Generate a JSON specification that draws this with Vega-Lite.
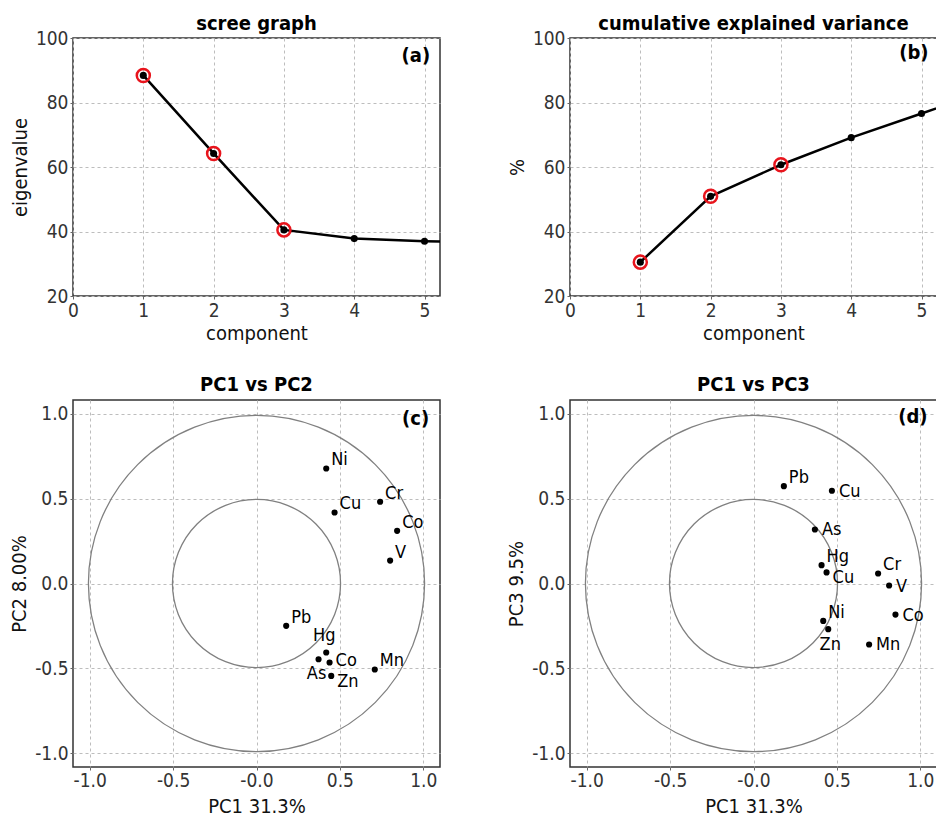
{
  "$schema": "https://vega.github.io/schema/vega-lite/v6.json",
  "padding": {"left": 8, "top": 13, "right": 0, "bottom": 0},
  "background": "white",
  "config": {
    "font": "DejaVu Sans Condensed, Roboto, sans-serif",
    "view": {"stroke": "#333333", "strokeWidth": 1.5},
    "axis": {
      "domain": false,
      "grid": true,
      "gridColor": "#bdbdbd",
      "gridDash": [3, 3],
      "gridWidth": 1,
      "tickColor": "#666666",
      "tickSize": 3,
      "labelFont": "DejaVu Sans Condensed, Roboto, sans-serif",
      "labelFontSize": 19,
      "labelColor": "#333333",
      "titleFont": "DejaVu Sans Condensed, Roboto, sans-serif",
      "titleFontSize": 20,
      "titleFontWeight": "normal",
      "titleColor": "#111111",
      "labelFlush": false,
      "labelOverlap": false,
      "labelBound": false
    },
    "axisX": {"labelPadding": 2, "titlePadding": 3},
    "axisY": {"labelPadding": 2, "titlePadding": 5},
    "title": {"fontSize": 20, "fontWeight": "bold", "baseline": "alphabetic", "frame": "group", "color": "black", "font": "DejaVu Sans Condensed, Roboto, sans-serif"}
  },
  "datasets": {
    "scree": [
      {"component": 1, "eigenvalue": 88.4, "retained": true},
      {"component": 2, "eigenvalue": 64.2, "retained": true},
      {"component": 3, "eigenvalue": 40.5, "retained": true},
      {"component": 4, "eigenvalue": 37.8, "retained": false},
      {"component": 5, "eigenvalue": 37.0, "retained": false},
      {"component": 6, "eigenvalue": 36.5, "retained": false}
    ],
    "cum": [
      {"component": 1, "percent": 30.5, "retained": true},
      {"component": 2, "percent": 50.9, "retained": true},
      {"component": 3, "percent": 60.7, "retained": true},
      {"component": 4, "percent": 69.1, "retained": false},
      {"component": 5, "percent": 76.6, "retained": false},
      {"component": 6, "percent": 84.0, "retained": false}
    ],
    "circles": [
      {"radius": 1},
      {"radius": 0.5}
    ],
    "pc12": [
      {"el": "Ni", "PC1": 0.418, "PC2": 0.677, "pos": "ur"},
      {"el": "Cu", "PC1": 0.468, "PC2": 0.418, "pos": "ur"},
      {"el": "Cr", "PC1": 0.741, "PC2": 0.481, "pos": "ur"},
      {"el": "Co", "PC1": 0.843, "PC2": 0.310, "pos": "ur"},
      {"el": "V", "PC1": 0.801, "PC2": 0.135, "pos": "ur"},
      {"el": "Pb", "PC1": 0.178, "PC2": -0.249, "pos": "ur"},
      {"el": "Hg", "PC1": 0.418, "PC2": -0.406, "pos": "above"},
      {"el": "As", "PC1": 0.372, "PC2": -0.446, "pos": "below"},
      {"el": "Co", "PC1": 0.438, "PC2": -0.465, "pos": "r"},
      {"el": "Zn", "PC1": 0.448, "PC2": -0.544, "pos": "lr"},
      {"el": "Mn", "PC1": 0.709, "PC2": -0.506, "pos": "ur"}
    ],
    "pc13": [
      {"el": "Pb", "PC1": 0.182, "PC3": 0.573, "pos": "ur"},
      {"el": "Cu", "PC1": 0.470, "PC3": 0.546, "pos": "r"},
      {"el": "As", "PC1": 0.368, "PC3": 0.318, "pos": "r"},
      {"el": "Hg", "PC1": 0.408, "PC3": 0.108, "pos": "ur"},
      {"el": "Cu", "PC1": 0.438, "PC3": 0.065, "pos": "lr"},
      {"el": "Cr", "PC1": 0.747, "PC3": 0.059, "pos": "ur"},
      {"el": "V", "PC1": 0.813, "PC3": -0.012, "pos": "r"},
      {"el": "Co", "PC1": 0.851, "PC3": -0.183, "pos": "r"},
      {"el": "Ni", "PC1": 0.418, "PC3": -0.220, "pos": "ur"},
      {"el": "Zn", "PC1": 0.448, "PC3": -0.269, "pos": "below"},
      {"el": "Mn", "PC1": 0.693, "PC3": -0.359, "pos": "r"}
    ]
  },
  "columns": 2,
  "align": "each",
  "spacing": {"column": 64, "row": 30},
  "concat": [
    {
      "title": {"text": "scree graph", "offset": -5},
      "width": 367,
      "height": 258,
      "layer": [
        {"data": {"name": "scree"}, "mark": {"type": "line", "color": "black", "strokeWidth": 2.5, "clip": true},
         "encoding": {
           "x": {"field": "component", "type": "quantitative", "scale": {"domain": [0, 5.22], "nice": false, "zero": false}, "axis": {"values": [0, 1, 2, 3, 4, 5], "format": "d"}, "title": "component"},
           "y": {"field": "eigenvalue", "type": "quantitative", "scale": {"domain": [20, 100], "nice": false, "zero": false}, "axis": {"values": [20, 40, 60, 80, 100], "format": "d"}, "title": "eigenvalue"}}},
        {"data": {"name": "scree"}, "transform": [{"filter": "datum.retained"}], "mark": {"type": "point", "filled": false, "color": "#e8141c", "strokeWidth": 2.5, "size": 170, "opacity": 1, "clip": true},
         "encoding": {"x": {"field": "component", "type": "quantitative", "title": "component"}, "y": {"field": "eigenvalue", "type": "quantitative", "title": "eigenvalue"}}},
        {"data": {"name": "scree"}, "mark": {"type": "point", "filled": true, "color": "black", "size": 50, "opacity": 1, "clip": true},
         "encoding": {"x": {"field": "component", "type": "quantitative", "title": "component"}, "y": {"field": "eigenvalue", "type": "quantitative", "title": "eigenvalue"}}},
        {"data": {"values": [{"panel": "(a)"}]}, "mark": {"type": "text", "align": "right", "baseline": "middle", "fontSize": 20, "fontWeight": "bold", "color": "black"},
         "encoding": {"x": {"datum": 5.08, "type": "quantitative"}, "y": {"datum": 94.5, "type": "quantitative"}, "text": {"field": "panel", "type": "nominal"}}}
      ]
    },
    {
      "title": {"text": "cumulative explained variance", "offset": -5},
      "width": 367,
      "height": 258,
      "layer": [
        {"data": {"name": "cum"}, "mark": {"type": "line", "color": "black", "strokeWidth": 2.5, "clip": true},
         "encoding": {
           "x": {"field": "component", "type": "quantitative", "scale": {"domain": [0, 5.22], "nice": false, "zero": false}, "axis": {"values": [0, 1, 2, 3, 4, 5], "format": "d"}, "title": "component"},
           "y": {"field": "percent", "type": "quantitative", "scale": {"domain": [20, 100], "nice": false, "zero": false}, "axis": {"values": [20, 40, 60, 80, 100], "format": "d"}, "title": "%"}}},
        {"data": {"name": "cum"}, "transform": [{"filter": "datum.retained"}], "mark": {"type": "point", "filled": false, "color": "#e8141c", "strokeWidth": 2.5, "size": 170, "opacity": 1, "clip": true},
         "encoding": {"x": {"field": "component", "type": "quantitative", "title": "component"}, "y": {"field": "percent", "type": "quantitative", "title": "%"}}},
        {"data": {"name": "cum"}, "mark": {"type": "point", "filled": true, "color": "black", "size": 50, "opacity": 1, "clip": true},
         "encoding": {"x": {"field": "component", "type": "quantitative", "title": "component"}, "y": {"field": "percent", "type": "quantitative", "title": "%"}}},
        {"data": {"values": [{"panel": "(b)"}]}, "mark": {"type": "text", "align": "right", "baseline": "middle", "fontSize": 20, "fontWeight": "bold", "color": "black"},
         "encoding": {"x": {"datum": 5.1, "type": "quantitative"}, "y": {"datum": 95.2, "type": "quantitative"}, "text": {"field": "panel", "type": "nominal"}}}
      ]
    },
    {
      "title": {"text": "PC1 vs PC2", "offset": 5},
      "width": 367,
      "height": 367,
      "layer": [
        {"data": {"name": "circles"}, "mark": {"type": "point", "shape": "circle", "filled": false, "color": "#808080", "strokeWidth": 1.3, "opacity": 1},
         "encoding": {
           "x": {"datum": 0, "type": "quantitative", "scale": {"domain": [-1.1, 1.1], "nice": false, "zero": false}, "axis": {"values": [-1, -0.5, 0, 0.5, 1], "labelExpr": "datum.value == 0 ? '-0.0' : (datum.value < 0 ? '-' + format(-datum.value, '.1f') : format(datum.value, '.1f'))", "labelPadding": 1, "titlePadding": 6}, "title": "PC1 31.3%"},
           "y": {"datum": 0, "type": "quantitative", "scale": {"domain": [-1.08, 1.08], "nice": false, "zero": false}, "axis": {"values": [-1, -0.5, 0, 0.5, 1], "labelExpr": "datum.value == 0 ? '0.0' : (datum.value < 0 ? '-' + format(-datum.value, '.1f') : format(datum.value, '.1f'))"}, "title": "PC2 8.00%"},
           "size": {"field": "radius", "type": "quantitative", "scale": {"type": "pow", "exponent": 2, "domain": [0, 1], "range": [0, 113000]}, "legend": null}}},
        {"data": {"name": "pc12"}, "mark": {"type": "point", "filled": true, "color": "black", "size": 38, "opacity": 1},
         "encoding": {"x": {"field": "PC1", "type": "quantitative", "title": "PC1 31.3%"}, "y": {"field": "PC2", "type": "quantitative", "title": "PC2 8.00%"}}},
        {"data": {"name": "pc12"}, "transform": [{"filter": "datum.pos == 'ur'"}], "mark": {"type": "text", "align": "left", "baseline": "middle", "dx": 5, "dy": -8, "fontSize": 18, "color": "black"},
         "encoding": {"x": {"field": "PC1", "type": "quantitative", "title": "PC1 31.3%"}, "y": {"field": "PC2", "type": "quantitative", "title": "PC2 8.00%"}, "text": {"field": "el", "type": "nominal"}}},
        {"data": {"name": "pc12"}, "transform": [{"filter": "datum.pos == 'r'"}], "mark": {"type": "text", "align": "left", "baseline": "middle", "dx": 6, "dy": -2, "fontSize": 18, "color": "black"},
         "encoding": {"x": {"field": "PC1", "type": "quantitative", "title": "PC1 31.3%"}, "y": {"field": "PC2", "type": "quantitative", "title": "PC2 8.00%"}, "text": {"field": "el", "type": "nominal"}}},
        {"data": {"name": "pc12"}, "transform": [{"filter": "datum.pos == 'lr'"}], "mark": {"type": "text", "align": "left", "baseline": "middle", "dx": 6, "dy": 6, "fontSize": 18, "color": "black"},
         "encoding": {"x": {"field": "PC1", "type": "quantitative", "title": "PC1 31.3%"}, "y": {"field": "PC2", "type": "quantitative", "title": "PC2 8.00%"}, "text": {"field": "el", "type": "nominal"}}},
        {"data": {"name": "pc12"}, "transform": [{"filter": "datum.pos == 'above'"}], "mark": {"type": "text", "align": "center", "baseline": "middle", "dx": -2, "dy": -16, "fontSize": 18, "color": "black"},
         "encoding": {"x": {"field": "PC1", "type": "quantitative", "title": "PC1 31.3%"}, "y": {"field": "PC2", "type": "quantitative", "title": "PC2 8.00%"}, "text": {"field": "el", "type": "nominal"}}},
        {"data": {"name": "pc12"}, "transform": [{"filter": "datum.pos == 'below'"}], "mark": {"type": "text", "align": "center", "baseline": "middle", "dx": -2, "dy": 15, "fontSize": 18, "color": "black"},
         "encoding": {"x": {"field": "PC1", "type": "quantitative", "title": "PC1 31.3%"}, "y": {"field": "PC2", "type": "quantitative", "title": "PC2 8.00%"}, "text": {"field": "el", "type": "nominal"}}},
        {"data": {"values": [{"panel": "(c)"}]}, "mark": {"type": "text", "align": "right", "baseline": "middle", "fontSize": 20, "fontWeight": "bold", "color": "black"},
         "encoding": {"x": {"datum": 1.035, "type": "quantitative"}, "y": {"datum": 0.968, "type": "quantitative"}, "text": {"field": "panel", "type": "nominal"}}}
      ]
    },
    {
      "title": {"text": "PC1 vs PC3", "offset": 5},
      "width": 367,
      "height": 367,
      "layer": [
        {"data": {"name": "circles"}, "mark": {"type": "point", "shape": "circle", "filled": false, "color": "#808080", "strokeWidth": 1.3, "opacity": 1},
         "encoding": {
           "x": {"datum": 0, "type": "quantitative", "scale": {"domain": [-1.1, 1.1], "nice": false, "zero": false}, "axis": {"values": [-1, -0.5, 0, 0.5, 1], "labelExpr": "datum.value == 0 ? '-0.0' : (datum.value < 0 ? '-' + format(-datum.value, '.1f') : format(datum.value, '.1f'))", "labelPadding": 1, "titlePadding": 6}, "title": "PC1 31.3%"},
           "y": {"datum": 0, "type": "quantitative", "scale": {"domain": [-1.08, 1.08], "nice": false, "zero": false}, "axis": {"values": [-1, -0.5, 0, 0.5, 1], "labelExpr": "datum.value == 0 ? '0.0' : (datum.value < 0 ? '-' + format(-datum.value, '.1f') : format(datum.value, '.1f'))"}, "title": "PC3 9.5%"},
           "size": {"field": "radius", "type": "quantitative", "scale": {"type": "pow", "exponent": 2, "domain": [0, 1], "range": [0, 113000]}, "legend": null}}},
        {"data": {"name": "pc13"}, "mark": {"type": "point", "filled": true, "color": "black", "size": 38, "opacity": 1},
         "encoding": {"x": {"field": "PC1", "type": "quantitative", "title": "PC1 31.3%"}, "y": {"field": "PC3", "type": "quantitative", "title": "PC3 9.5%"}}},
        {"data": {"name": "pc13"}, "transform": [{"filter": "datum.pos == 'ur'"}], "mark": {"type": "text", "align": "left", "baseline": "middle", "dx": 5, "dy": -8, "fontSize": 18, "color": "black"},
         "encoding": {"x": {"field": "PC1", "type": "quantitative", "title": "PC1 31.3%"}, "y": {"field": "PC3", "type": "quantitative", "title": "PC3 9.5%"}, "text": {"field": "el", "type": "nominal"}}},
        {"data": {"name": "pc13"}, "transform": [{"filter": "datum.pos == 'r'"}], "mark": {"type": "text", "align": "left", "baseline": "middle", "dx": 7, "dy": 1, "fontSize": 18, "color": "black"},
         "encoding": {"x": {"field": "PC1", "type": "quantitative", "title": "PC1 31.3%"}, "y": {"field": "PC3", "type": "quantitative", "title": "PC3 9.5%"}, "text": {"field": "el", "type": "nominal"}}},
        {"data": {"name": "pc13"}, "transform": [{"filter": "datum.pos == 'lr'"}], "mark": {"type": "text", "align": "left", "baseline": "middle", "dx": 6, "dy": 6, "fontSize": 18, "color": "black"},
         "encoding": {"x": {"field": "PC1", "type": "quantitative", "title": "PC1 31.3%"}, "y": {"field": "PC3", "type": "quantitative", "title": "PC3 9.5%"}, "text": {"field": "el", "type": "nominal"}}},
        {"data": {"name": "pc13"}, "transform": [{"filter": "datum.pos == 'below'"}], "mark": {"type": "text", "align": "center", "baseline": "middle", "dx": 2, "dy": 16, "fontSize": 18, "color": "black"},
         "encoding": {"x": {"field": "PC1", "type": "quantitative", "title": "PC1 31.3%"}, "y": {"field": "PC3", "type": "quantitative", "title": "PC3 9.5%"}, "text": {"field": "el", "type": "nominal"}}},
        {"data": {"values": [{"panel": "(d)"}]}, "mark": {"type": "text", "align": "right", "baseline": "middle", "fontSize": 20, "fontWeight": "bold", "color": "black"},
         "encoding": {"x": {"datum": 1.043, "type": "quantitative"}, "y": {"datum": 0.981, "type": "quantitative"}, "text": {"field": "panel", "type": "nominal"}}}
      ]
    }
  ]
}
